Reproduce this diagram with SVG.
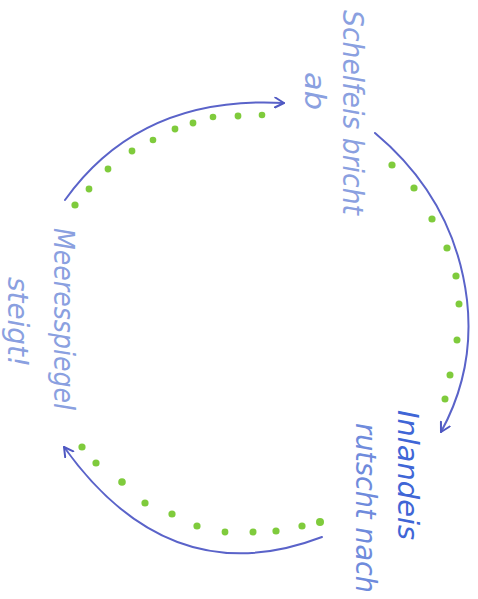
<svg xmlns="http://www.w3.org/2000/svg" width="478" height="599" viewBox="0 0 478 599">
<style>
.arc{fill:none;stroke:#5a63c9;stroke-width:2;stroke-linecap:round}
.dot{fill:#7fcb3c}
.lbl{font-family:"DejaVu Sans",sans-serif;font-style:italic;font-weight:300;font-size:28px}
.l1{fill:#8aa0e0}
.l2{fill:#3f66d6}
</style>
<defs>
<marker id="ah" viewBox="0 0 12 12" refX="10" refY="6" markerWidth="12" markerHeight="12" markerUnits="userSpaceOnUse" orient="auto">
<path d="M1,1 L10,6 L1,11" fill="none" stroke="#4f58c2" stroke-width="2" stroke-linecap="round" stroke-linejoin="round"/>
</marker>
</defs>
<rect width="478" height="599" fill="#fff"/>
<g id="connectors">
<path class="arc" d="M65,200 Q140,95 284,103" marker-end="url(#ah)"/>
<path class="arc" d="M375,133 Q455,200 467,300 Q475,370 441,432" marker-end="url(#ah)"/>
<path class="arc" d="M322,537 Q170,595 64,447" marker-end="url(#ah)"/>
</g>
<g id="dots1">
<circle class="dot" cx="75" cy="205" r="3.6"/><circle class="dot" cx="89" cy="189" r="3.4"/><circle class="dot" cx="108" cy="169" r="3.4"/><circle class="dot" cx="132" cy="151" r="3.4"/><circle class="dot" cx="153" cy="140" r="3.3"/><circle class="dot" cx="175" cy="129" r="3.4"/><circle class="dot" cx="193" cy="123" r="3.4"/><circle class="dot" cx="213" cy="117" r="3.3"/><circle class="dot" cx="238" cy="116" r="3.4"/><circle class="dot" cx="262" cy="115" r="3.3"/>
</g>
<g id="dots2">
<circle class="dot" cx="392" cy="165" r="3.6"/><circle class="dot" cx="414" cy="188" r="3.6"/><circle class="dot" cx="432" cy="219" r="3.6"/><circle class="dot" cx="447" cy="248" r="3.6"/><circle class="dot" cx="456" cy="276" r="3.6"/><circle class="dot" cx="459" cy="304" r="3.5"/><circle class="dot" cx="457" cy="340" r="3.5"/><circle class="dot" cx="450" cy="375" r="3.5"/><circle class="dot" cx="445" cy="399" r="3.5"/>
</g>
<g id="dots3">
<circle class="dot" cx="82" cy="447" r="3.6"/><circle class="dot" cx="96" cy="463" r="3.6"/><circle class="dot" cx="122" cy="482" r="3.8"/><circle class="dot" cx="145" cy="503" r="3.6"/><circle class="dot" cx="172" cy="514" r="3.6"/><circle class="dot" cx="197" cy="526" r="3.6"/><circle class="dot" cx="225" cy="532" r="3.4"/><circle class="dot" cx="253" cy="532" r="3.5"/><circle class="dot" cx="276" cy="531" r="3.6"/><circle class="dot" cx="302" cy="526" r="3.6"/><circle class="dot" cx="320" cy="522" r="4"/>
</g>
<g id="node-schelfeis">
<text class="lbl l1" transform="translate(343,10) rotate(90)" textLength="205" lengthAdjust="spacingAndGlyphs">Schelfeis bricht</text>
<text class="lbl l1" transform="translate(305,72) rotate(90)" textLength="38" lengthAdjust="spacingAndGlyphs">ab</text>
</g>
<g id="node-inlandeis">
<text class="lbl l2" transform="translate(398,410) rotate(90)" textLength="130" lengthAdjust="spacingAndGlyphs">Inlandeis</text>
<text class="lbl l1" transform="translate(356,423) rotate(90)" textLength="170" lengthAdjust="spacingAndGlyphs" style="fill:#6f8bdc">rutscht nach</text>
</g>
<g id="node-meeresspiegel">
<text class="lbl l1" transform="translate(54,228) rotate(90)" textLength="182" lengthAdjust="spacingAndGlyphs">Meeresspiegel</text>
<text class="lbl l1" transform="translate(8,277) rotate(90)" textLength="90" lengthAdjust="spacingAndGlyphs">steigt!</text>
</g>
</svg>
